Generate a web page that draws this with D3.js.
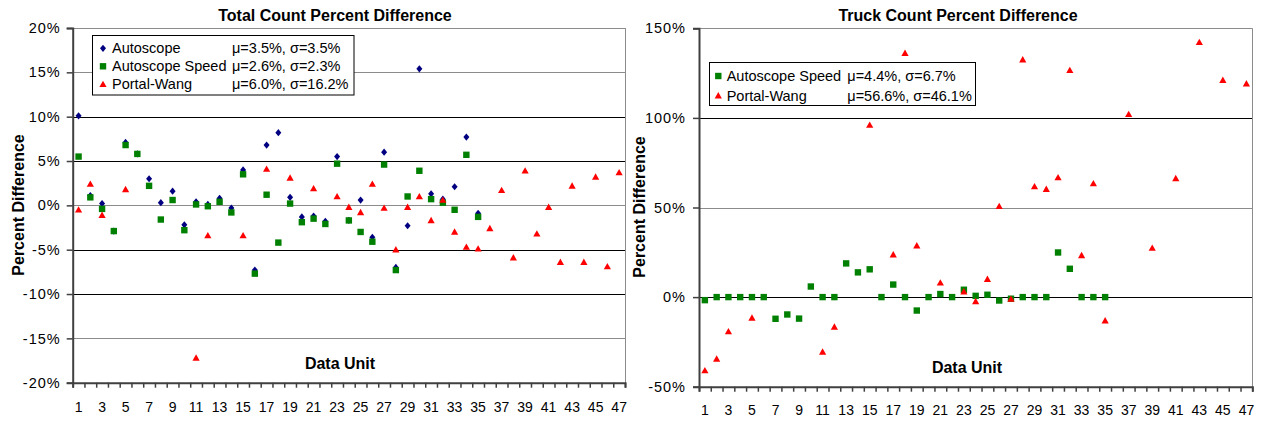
<!DOCTYPE html>
<html><head><meta charset="utf-8">
<script src="https://cdn.jsdelivr.net/npm/d3@7"></script>
<style>body{margin:0;background:#fff;overflow:hidden} text{font-family:"Liberation Sans",Arial,sans-serif;fill:#000}</style>
</head><body><svg id="c" width="1263" height="421"></svg>
<script>
// ---------- data ----------
const units = [1,2,3,4,5,6,7,8,9,10,11,12,13,14,15,16,17,18,19,20,21,22,23,24,25,26,27,28,29,30,31,32,33,34,35,36,37,38,39,40,41,42,43,44,45,46,47];
const xTickLabels = [1,3,5,7,9,11,13,15,17,19,21,23,25,27,29,31,33,35,37,39,41,43,45,47];

const leftTicks = [-20,-15,-10,-5,0,5,10,15,20];
const rightTicks = [-50,0,50,100,150];

// Total count percent difference (%)
const totalAutoscope = [10.1,1.1,0.2,-2.9,7.1,5.8,3.0,0.3,1.6,-2.2,0.4,0.1,0.8,-0.3,4.0,-7.3,6.8,8.2,0.9,-1.3,-1.2,-1.8,5.5,-1.7,0.6,-3.6,6.0,-7.0,-2.3,15.4,1.3,0.7,2.1,7.7,-0.9];
const totalSpeed = [5.5,0.9,-0.4,-2.9,6.8,5.8,2.2,-1.6,0.6,-2.8,0.1,-0.1,0.4,-0.8,3.5,-7.7,1.2,-4.2,0.2,-1.9,-1.5,-2.1,4.7,-1.7,-3.0,-4.1,4.6,-7.3,1.0,3.9,0.7,0.3,-0.5,5.7,-1.3];
const totalPortal = [-0.5,2.4,-1.1,null,1.8,null,null,null,null,null,-17.2,-3.4,null,null,-3.4,null,4.1,null,3.1,null,1.9,null,1.0,-0.2,-0.8,2.4,-0.3,-5.0,-0.2,1.0,-1.7,0.6,-3.0,-4.7,-4.9,-2.6,1.7,-5.9,3.9,-3.2,-0.2,-6.4,2.2,-6.4,3.2,-6.9,3.7];

// Truck count percent difference (%)
const truckSpeed = [-1.7,0,0,0,0,0,-12.1,-9.7,-12.0,5.9,0,0,18.8,13.8,15.5,0,7.0,0,-7.5,0,1.7,0,4.1,0.7,1.3,-1.9,-0.9,0,0,0,24.9,15.8,0,0,0];
const truckPortal = [-41.0,-34.5,-19.2,null,-11.6,null,null,null,null,null,-30.6,-16.6,null,null,96.0,null,23.7,136.1,28.7,null,8.0,null,3.0,-2.4,10.0,50.7,-1.1,132.5,61.7,60.2,66.7,126.6,23.3,63.4,-13.1,null,102.0,null,27.4,null,66.2,null,142.2,null,121.1,null,119.1];

const seriesNames = ["Autoscope","Autoscope Speed","Portal-Wang"];
const leftStats = ["\u03bc=3.5%, \u03c3=3.5%","\u03bc=2.6%, \u03c3=2.3%","\u03bc=6.0%, \u03c3=16.2%"];
const rightStats = ["\u03bc=4.4%, \u03c3=6.7%","\u03bc=56.6%, \u03c3=46.1%"];

const colors = {diamond:"#000080", square:"#008000", triangle:"#ff0000"};

// ---------- drawing ----------
const svg = d3.select("#c");

function shape(sel, kind){
  if(kind==="diamond") sel.append("path").attr("d","M0,-3.6L3,0L0,3.6L-3,0Z").attr("fill",colors.diamond);
  else if(kind==="square") sel.append("rect").attr("x",-3.2).attr("y",-3.2).attr("width",6.4).attr("height",6.4).attr("fill",colors.square);
  else sel.append("path").attr("d","M0,-3.6L3.6,2.8L-3.6,2.8Z").attr("fill",colors.triangle);
}

function drawChart(o){
  const g = svg.append("g");
  const x = d3.scaleBand().domain(units).range([o.x0,o.x1]).padding(0);
  const xb = d3.scaleLinear().domain([0.5,47.5]).range([o.x0,o.x1]);
  const y = d3.scaleLinear().domain([o.ticks[0],o.ticks[o.ticks.length-1]]).range([o.y1,o.y0]);

  // grid
  g.selectAll(".grid").data(o.ticks.slice(1)).join("line")
    .attr("x1",o.x0).attr("x2",o.x1)
    .attr("y1",d=>Math.round(y(d))+0.5).attr("y2",d=>Math.round(y(d))+0.5)
    .attr("stroke",d=>o.gray.includes(d)?"#8c8c8c":"#000").attr("stroke-width",1);
  // right border
  g.append("line").attr("x1",Math.round(o.x1)+0.5).attr("x2",Math.round(o.x1)+0.5)
    .attr("y1",o.y0).attr("y2",o.y1).attr("stroke","#8c8c8c");

  // y axis
  const ya = g.append("g").attr("transform",`translate(${o.x0},0)`)
    .call(d3.axisLeft(y).tickValues(o.ticks).tickFormat(d=>d+"%").tickSize(6).tickPadding(o.yPad));
  ya.select(".domain").attr("stroke","#404040").attr("stroke-width",2);
  ya.selectAll(".tick line").attr("stroke","#404040").attr("stroke-width",1.5);
  ya.selectAll("text").style("font-size","14.5px").style("letter-spacing","1px").attr("fill","#000");

  // x axis ticks at band boundaries
  const xa = g.append("g").attr("transform",`translate(0,${o.y1})`)
    .call(d3.axisBottom(xb).tickValues(units.map(u=>u-0.5).concat([47.5])).tickFormat("").tickSize(5));
  xa.select(".domain").attr("stroke","#404040").attr("stroke-width",2);
  xa.selectAll(".tick line").attr("stroke","#404040").attr("stroke-width",1.5);
  const xl = g.append("g").attr("transform",`translate(0,${o.y1})`)
    .call(d3.axisBottom(x).tickValues(xTickLabels).tickSize(0));
  xl.select(".domain").remove();
  xl.selectAll("text").style("font-size","14px").attr("y",o.xPad).attr("dy","0.71em").attr("fill","#000");

  // points
  o.series.forEach(s=>{
    s.values.forEach((v,i)=>{
      if(v===null||v===undefined) return;
      const p = g.append("g").attr("transform",`translate(${x(units[i])+x.bandwidth()/2},${y(v)})`);
      shape(p,s.kind);
    });
  });

  // title
  g.append("text").attr("x",o.titleX).attr("y",o.titleY).attr("text-anchor","middle")
    .style("font-size","16px").style("font-weight","bold").text(o.title);
  // y label
  g.append("text").attr("transform",`translate(${o.ylabX},${o.ylabY}) rotate(-90)`)
    .attr("text-anchor","middle").attr("dy","0.35em")
    .style("font-size","16px").style("font-weight","bold").text("Percent Difference");
  // x label
  g.append("text").attr("x",o.xlabX).attr("y",o.xlabY).attr("text-anchor","middle")
    .style("font-size","16px").style("font-weight","bold").text("Data Unit");

  // legend
  const L = o.legend;
  g.append("rect").attr("x",L.x+0.5).attr("y",L.y+0.5).attr("width",L.w).attr("height",L.h)
    .attr("fill","#fff").attr("stroke","#000").attr("stroke-width",1);
  L.items.forEach((it,i)=>{
    const cy = L.firstBase + i*L.step;
    const p = g.append("g").attr("transform",`translate(${L.symX},${cy-5})`);
    shape(p,it.kind);
    g.append("text").attr("x",L.textX).attr("y",cy).style("font-size","14.5px").text(it.name);
    g.append("text").attr("x",L.statX).attr("y",cy).style("font-size","14.5px").text(it.stat);
  });
}

drawChart({
  x0:72.7, x1:625, y0:28, y1:382.7, ticks:leftTicks, gray:[20,15,0,-15], yPad:6, xPad:19,
  title:"Total Count Percent Difference", titleX:335, titleY:21,
  ylabX:18, ylabY:205, xlabX:340, xlabY:369,
  series:[{kind:"diamond",values:totalAutoscope},{kind:"square",values:totalSpeed},{kind:"triangle",values:totalPortal}],
  legend:{x:92,y:35,w:261.5,h:59.5,symX:103,textX:112,statX:232,firstBase:53.3,step:18,
    items:[{kind:"diamond",name:seriesNames[0],stat:leftStats[0]},{kind:"square",name:seriesNames[1],stat:leftStats[1]},{kind:"triangle",name:seriesNames[2],stat:leftStats[2]}]}
});

drawChart({
  x0:699, x1:1252.3, y0:28.3, y1:386.7, ticks:rightTicks, gray:[150,50], yPad:7, xPad:18,
  title:"Truck Count Percent Difference", titleX:958, titleY:21,
  ylabX:639, ylabY:207, xlabX:967, xlabY:373,
  series:[{kind:"square",values:truckSpeed},{kind:"triangle",values:truckPortal}],
  legend:{x:709,y:62,w:266,h:43,symX:718.3,textX:726.7,statX:847.3,firstBase:81,step:19.7,
    items:[{kind:"square",name:seriesNames[1],stat:rightStats[0]},{kind:"triangle",name:seriesNames[2],stat:rightStats[1]}]}
});
</script></body></html>
